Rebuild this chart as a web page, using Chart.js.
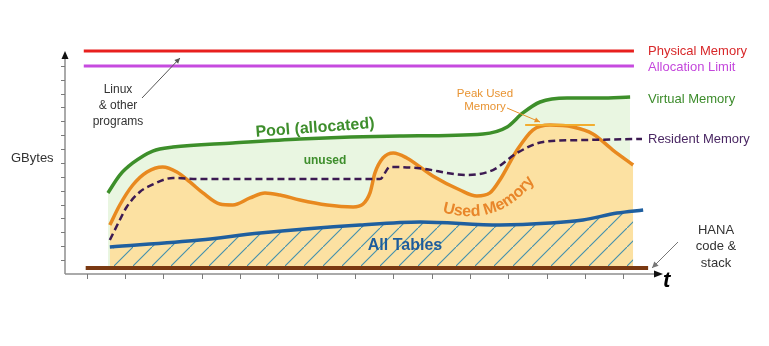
<!DOCTYPE html>
<html lang="en">
<head>
<meta charset="utf-8">
<title>HANA memory</title>
<script src="https://cdn.jsdelivr.net/npm/chart.js@4.4.0/dist/chart.umd.min.js"></script>
<style>
  html, body { margin: 0; padding: 0; background: #ffffff; }
  #chart-box { width: 769px; height: 346px; }
</style>
</head>
<body>
<div id="chart-box"><canvas id="memory-chart" width="769" height="346"></canvas></div>
<script>
'use strict';

// *************** GLOBALS (data)
let timeTicks = [1, 2, 3, 4, 5, 6, 7, 8, 9, 10, 11, 12, 13, 14, 15];
let gbTicks = [1, 2, 3, 4, 5, 6, 7, 8, 9, 10, 11, 12, 13, 14, 15];

let physicalTime = [0.92, 15.28];
let physicalGb = [16.07, 16.07];

let limitTime = [0.92, 15.28];
let limitGb = [14.99, 14.99];

let poolTime = [1.55, 1.86, 2.20, 2.72, 3.25, 4.81, 6.56, 9.17, 11.34, 11.97, 12.38, 12.83, 13.53, 14.39, 15.18];
let poolGb = [5.84, 7.13, 8.00, 8.86, 9.15, 9.44, 9.73, 9.94, 10.09, 10.59, 11.60, 12.39, 12.68, 12.68, 12.75];

let usedTime = [1.60, 1.86, 2.20, 2.57, 2.98, 3.35, 3.69, 4.03, 4.47, 4.81, 5.26, 5.65, 6.04, 6.56, 7.27, 7.95, 8.21, 8.39, 8.52, 8.73, 9.00, 9.35, 10.03, 10.74, 11.18, 11.52, 11.78, 12.23, 12.64, 13.09, 13.69, 14.21, 14.73, 15.26];
let usedGb = [3.53, 4.97, 6.41, 7.35, 7.71, 7.35, 6.63, 5.84, 5.04, 4.97, 5.48, 5.84, 5.69, 5.33, 4.97, 4.83, 5.04, 5.84, 7.28, 8.36, 8.72, 8.36, 7.06, 6.05, 5.62, 5.84, 6.77, 8.93, 10.37, 10.73, 10.59, 10.09, 8.93, 7.85];

let peakTime = [12.44, 14.26];
let peakGb = [10.73, 10.73];

let residentTime = [1.60, 1.86, 2.04, 2.38, 2.64, 3.25, 3.95, 6.56, 8.65, 8.91, 9.62, 10.92, 11.60, 12.23, 12.91, 13.95, 15.49];
let residentGb = [2.45, 3.89, 4.83, 5.91, 6.34, 6.92, 6.84, 6.84, 6.84, 7.71, 7.64, 7.13, 7.49, 8.72, 9.51, 9.65, 9.73];

let tablesTime = [1.60, 3.95, 5.52, 8.13, 9.70, 11.78, 13.09, 13.95, 14.84, 15.52];
let tablesGb = [1.95, 2.45, 2.95, 3.53, 3.75, 3.53, 3.67, 3.89, 4.39, 4.61];

let hatchTime = [1.68, 3.95, 5.52, 8.13, 9.70, 11.78, 13.09, 13.95, 14.84, 15.26];
let hatchGb = [1.97, 2.45, 2.95, 3.53, 3.75, 3.53, 3.67, 3.89, 4.39, 4.54];

let hanaTime = [0.97, 15.65];
let hanaGb = [0.43, 0.43];

let baseGb = 0.43;

// *************** DOM WINDOWS
let ctx = document.getElementById('memory-chart');

// ***************** HELPER FUNCTIONS UTILITIES
function toPoints(xs, ys) {
  let pts = [];
  for (let i = 0; i < xs.length; i++) {
    pts.push({ x: xs[i], y: ys[i] });
  }
  return pts;
}

function makeHatch() {
  let tile = document.createElement('canvas');
  tile.width = 19;
  tile.height = 19;
  let t = tile.getContext('2d');
  t.strokeStyle = '#3f8fae';
  t.lineWidth = 1.1;
  t.beginPath();
  t.moveTo(-2, 21);
  t.lineTo(21, -2);
  t.stroke();
  return t.createPattern(tile, 'repeat');
}

function arrow(c, x1, y1, x2, y2, color, head) {
  let ang = Math.atan2(y2 - y1, x2 - x1);
  c.strokeStyle = color;
  c.fillStyle = color;
  c.lineWidth = 1;
  c.beginPath();
  c.moveTo(x1, y1);
  c.lineTo(x2, y2);
  c.stroke();
  c.beginPath();
  c.moveTo(x2, y2);
  c.lineTo(x2 - head * Math.cos(ang - 0.45), y2 - head * Math.sin(ang - 0.45));
  c.lineTo(x2 - head * Math.cos(ang + 0.45), y2 - head * Math.sin(ang + 0.45));
  c.closePath();
  c.fill();
}

function textLines(c, lines, x, y, gap) {
  for (let i = 0; i < lines.length; i++) {
    c.fillText(lines[i], x, y + i * gap);
  }
}

// text bent along a quadratic curve
function curvedText(c, text, p0, p1, p2) {
  let samples = [];
  let total = 0;
  let prev = p0;
  for (let i = 0; i <= 200; i++) {
    let t = i / 200;
    let x = (1 - t) * (1 - t) * p0[0] + 2 * t * (1 - t) * p1[0] + t * t * p2[0];
    let y = (1 - t) * (1 - t) * p0[1] + 2 * t * (1 - t) * p1[1] + t * t * p2[1];
    total += Math.hypot(x - prev[0], y - prev[1]);
    samples.push({ x: x, y: y, len: total });
    prev = [x, y];
  }
  let width = c.measureText(text).width;
  let pos = (total - width) / 2;
  for (let i = 0; i < text.length; i++) {
    let w = c.measureText(text[i]).width;
    let mid = pos + w / 2;
    let k = 1;
    while (k < samples.length - 1 && samples[k].len < mid) {
      k++;
    }
    let a = samples[k - 1];
    let b = samples[k];
    let ang = Math.atan2(b.y - a.y, b.x - a.x);
    c.save();
    c.translate(b.x, b.y);
    c.rotate(ang);
    c.fillText(text[i], -w / 2, 0);
    c.restore();
    pos += w;
  }
}

// *********** PLUGINS: AXES AND LABELS ************
let axesPlugin = {
  id: 'axes',
  beforeDatasetsDraw(chart) {
    let c = chart.ctx;
    let area = chart.chartArea;
    let xs = chart.scales.x;
    let ys = chart.scales.y;
    c.save();
    c.strokeStyle = '#8e8e8e';
    c.lineWidth = 1.5;
    c.beginPath();
    c.moveTo(area.left, area.bottom);
    c.lineTo(area.left, 57);
    c.moveTo(area.left, area.bottom);
    c.lineTo(area.right - 3, area.bottom);
    c.stroke();

    c.lineWidth = 1;
    c.strokeStyle = '#7a7a7a';
    c.beginPath();
    for (let i = 0; i < gbTicks.length; i++) {
      let y = Math.round(ys.getPixelForValue(gbTicks[i])) + 0.5;
      c.moveTo(area.left - 4, y);
      c.lineTo(area.left, y);
    }
    for (let i = 0; i < timeTicks.length; i++) {
      let x = Math.round(xs.getPixelForValue(timeTicks[i])) + 0.5;
      c.moveTo(x, area.bottom);
      c.lineTo(x, area.bottom + 5);
    }
    c.stroke();

    c.fillStyle = '#111111';
    c.beginPath();
    c.moveTo(area.left, 51);
    c.lineTo(area.left - 3.5, 59);
    c.lineTo(area.left + 3.5, 59);
    c.closePath();
    c.fill();
    c.beginPath();
    c.moveTo(area.right + 3, area.bottom);
    c.lineTo(area.right - 6, area.bottom - 3.5);
    c.lineTo(area.right - 6, area.bottom + 3.5);
    c.closePath();
    c.fill();
    c.restore();
  }
};

let labelPlugin = {
  id: 'labels',
  afterDraw(chart) {
    let c = chart.ctx;
    c.save();
    c.textBaseline = 'middle';

    c.textAlign = 'left';
    c.font = '13px "Liberation Sans", Arial, sans-serif';
    c.fillStyle = '#d8282a';
    c.fillText('Physical Memory', 648, 51);
    c.fillStyle = '#c447dc';
    c.fillText('Allocation Limit', 648, 67);
    c.fillStyle = '#3d8c2c';
    c.fillText('Virtual Memory', 648, 99);
    c.fillStyle = '#4a2763';
    c.fillText('Resident Memory', 648, 139);
    c.fillStyle = '#333333';
    c.fillText('GBytes', 11, 158);

    c.textAlign = 'center';
    c.font = '12px "Liberation Sans", Arial, sans-serif';
    textLines(c, ['Linux', '& other', 'programs'], 118, 90, 16);
    c.font = '13px "Liberation Sans", Arial, sans-serif';
    textLines(c, ['HANA', 'code &', 'stack'], 716, 230, 16.5);

    c.fillStyle = '#e89433';
    c.font = '11.5px "Liberation Sans", Arial, sans-serif';
    textLines(c, ['Peak Used', 'Memory'], 485, 94, 12.5);

    arrow(c, 142, 98, 180, 58, '#555555', 6);
    arrow(c, 678, 242, 652, 268, '#777777', 7);
    arrow(c, 507, 108, 540, 122, '#e8902a', 6);

    c.fillStyle = '#3e8e2c';
    c.font = 'bold 16px "Liberation Sans", Arial, sans-serif';
    c.save();
    c.translate(315, 128);
    c.rotate(-0.075);
    c.fillText('Pool (allocated)', 0, 0);
    c.restore();
    c.font = 'bold 12px "Liberation Sans", Arial, sans-serif';
    c.fillText('unused', 325, 161);

    c.fillStyle = '#1e5c9c';
    c.font = 'bold 16px "Liberation Sans", Arial, sans-serif';
    c.fillText('All Tables', 405, 246);

    c.fillStyle = '#e8862a';
    c.font = 'bold 16px "Liberation Sans", Arial, sans-serif';
    c.textAlign = 'left';
    c.textBaseline = 'alphabetic';
    curvedText(c, 'Used Memory', [436, 210], [500, 232], [538, 176]);

    c.fillStyle = '#000000';
    c.font = 'bold italic 22px "Liberation Sans", Arial, sans-serif';
    c.fillText('t', 663, 287);
    c.restore();
  }
};

// *********** HELPER FUNCTION TO RENDER CHART ************
function renderChart() {
  let hatch = makeHatch();
  let curve = { pointRadius: 0, cubicInterpolationMode: 'monotone' };

  let chartObj = {
    type: 'line',
    data: {
      datasets: [
        Object.assign({ label: 'Physical Memory', data: toPoints(physicalTime, physicalGb), borderColor: '#e8201e', borderWidth: 3, fill: false, order: 1 }, curve),
        Object.assign({ label: 'Allocation Limit', data: toPoints(limitTime, limitGb), borderColor: '#c64bdf', borderWidth: 3, fill: false, order: 1 }, curve),
        Object.assign({ label: 'Peak Used Memory', data: toPoints(peakTime, peakGb), borderColor: '#f2ad2e', borderWidth: 2, fill: false, order: 1 }, curve),
        Object.assign({ label: 'HANA code & stack', data: toPoints(hanaTime, hanaGb), borderColor: '#7a3912', borderWidth: 4, fill: false, order: 1 }, curve),
        Object.assign({ label: 'Resident Memory', data: toPoints(residentTime, residentGb), borderColor: '#3c1a52', borderWidth: 2.5, borderDash: [7, 4], fill: false, order: 2 }, curve),
        Object.assign({ label: 'All Tables', data: toPoints(tablesTime, tablesGb), borderColor: '#1f5f9f', borderWidth: 3.5, fill: false, order: 3 }, curve),
        Object.assign({ label: 'hatch', data: toPoints(hatchTime, hatchGb), borderWidth: 0, borderColor: 'rgba(0,0,0,0)', backgroundColor: hatch, fill: { value: baseGb }, order: 4 }, curve),
        Object.assign({ label: 'Used Memory', data: toPoints(usedTime, usedGb), borderColor: '#e8891f', borderWidth: 3.5, backgroundColor: '#fce1a2', fill: { value: baseGb }, order: 5 }, curve),
        Object.assign({ label: 'Virtual Memory', data: toPoints(poolTime, poolGb), borderColor: '#3d8f2a', borderWidth: 3.5, backgroundColor: '#e9f6e1', fill: { value: baseGb }, order: 6 }, curve)
      ]
    },
    options: {
      responsive: false,
      animation: false,
      layout: { padding: { left: 65, right: 109, top: 38, bottom: 72 } },
      scales: {
        x: { type: 'linear', min: 0.43, max: 15.96, display: false },
        y: { type: 'linear', min: 0, max: 17, display: false }
      },
      plugins: {
        legend: { display: false },
        tooltip: { enabled: false }
      },
      elements: { line: { capBezierPoints: true } }
    },
    plugins: [axesPlugin, labelPlugin]
  };

  new Chart(ctx, chartObj); // eslint-disable-line
}

// **************** EXECUTABLE CODE
renderChart();
</script>
</body>
</html>
